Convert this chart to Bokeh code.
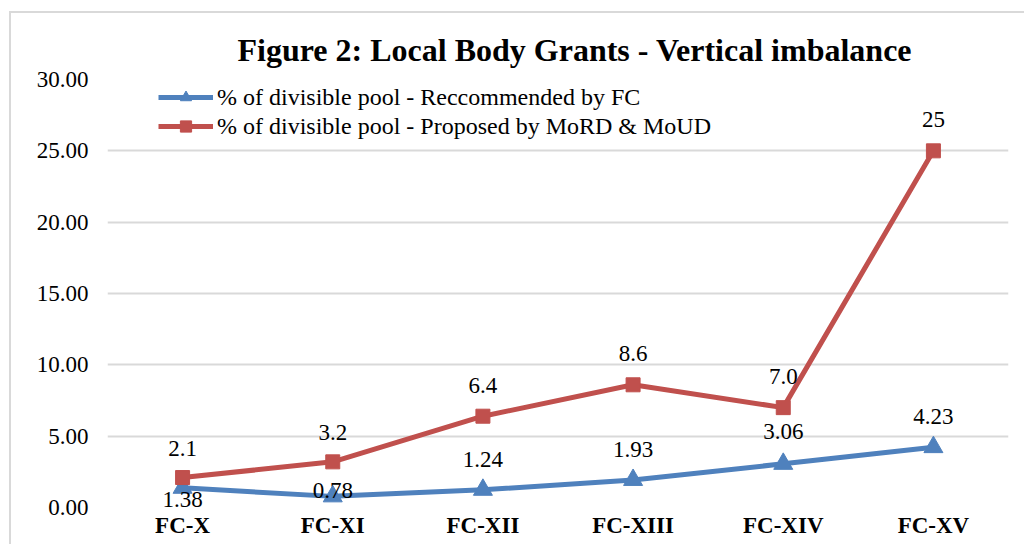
from bokeh.plotting import figure
from bokeh.models import ColumnDataSource, Range1d, FixedTicker, NumeralTickFormatter, Legend, LegendItem
from bokeh.core.properties import value
from bokeh.embed import file_html
from bokeh.resources import INLINE

categories = ["FC-X", "FC-XI", "FC-XII", "FC-XIII", "FC-XIV", "FC-XV"]
recommended = [1.38, 0.78, 1.24, 1.93, 3.06, 4.23]
proposed = [2.1, 3.2, 6.4, 8.6, 7.0, 25]
recommended_labels = ["1.38", "0.78", "1.24", "1.93", "3.06", "4.23"]
proposed_labels = ["2.1", "3.2", "6.4", "8.6", "7.0", "25"]
series_names = ["% of divisible pool - Reccommended by FC",
                "% of divisible pool - Proposed by MoRD & MoUD"]
y_ticks = [0, 5, 10, 15, 20, 25, 30]

# label vertical offsets in pixels (style)
rec_label_dy = [12, -6, -30, -30, -32, -31]
prop_label_dy = [-29, -29, -31, -31, -31, -31]

BLUE = "#4F81BD"
RED = "#C0504D"
FONT = "Liberation Serif"

src_rec = ColumnDataSource(dict(x=categories, y=recommended, t=recommended_labels, dy=rec_label_dy))
src_prop = ColumnDataSource(dict(x=categories, y=proposed, t=proposed_labels, dy=prop_label_dy))

p = figure(width=1015, height=533, x_range=categories, y_range=Range1d(0, 30),
           output_backend="svg", toolbar_location=None,
           min_border_left=96, min_border_right=18, min_border_top=66, min_border_bottom=39)
p.styles = {"border-left": "2px solid #d9d9d9", "border-top": "2px solid #d9d9d9",
            "margin-left": "9px", "margin-top": "11px"}

p.title.text = "Figure 2: Local Body Grants - Vertical imbalance"
p.title.text_font = FONT
p.title.text_font_size = "32px"
p.title.text_font_style = "bold"
p.title.text_color = "black"
p.title.align = "left"
p.title.offset = 130
p.title.standoff = 24

p.outline_line_color = None
p.xgrid.grid_line_color = None
p.ygrid.grid_line_color = "#d9d9d9"
p.ygrid.grid_line_width = 2

p.yaxis.ticker = FixedTicker(ticks=y_ticks)
p.yaxis.formatter = NumeralTickFormatter(format="0.00")
p.yaxis.axis_line_color = None
p.yaxis.major_tick_line_color = None
p.yaxis.minor_tick_line_color = None
p.yaxis.major_tick_out = 0
p.yaxis.major_tick_in = 0
p.yaxis.major_label_standoff = 19
p.yaxis.major_label_text_font = FONT
p.yaxis.major_label_text_font_size = "23px"
p.yaxis.major_label_text_color = "black"

p.xaxis.axis_line_color = None
p.xaxis.major_tick_line_color = None
p.xaxis.major_tick_out = 0
p.xaxis.major_tick_in = 0
p.xaxis.major_label_standoff = 5
p.xaxis.major_label_text_font = FONT
p.xaxis.major_label_text_font_size = "23px"
p.xaxis.major_label_text_font_style = "bold"
p.xaxis.major_label_text_color = "black"

l1 = p.line("x", "y", source=src_rec, line_color=BLUE, line_width=5)
m1 = p.scatter("x", "y", source=src_rec, marker="triangle", size=19, fill_color=BLUE, line_color=BLUE)
l2 = p.line("x", "y", source=src_prop, line_color=RED, line_width=5)
m2 = p.scatter("x", "y", source=src_prop, marker="square", size=14, fill_color=RED, line_color=RED)

p.text("x", "y", text="t", source=src_rec, y_offset="dy", text_align="center", text_baseline="middle",
       text_font=value(FONT), text_font_size="23px", text_color="black", level="overlay")
p.text("x", "y", text="t", source=src_prop, y_offset="dy", text_align="center", text_baseline="middle",
       text_font=value(FONT), text_font_size="23px", text_color="black", level="overlay")

legend = Legend(items=[LegendItem(label=series_names[0], renderers=[l1, m1]),
                       LegendItem(label=series_names[1], renderers=[l2, m2])],
                location=(51, 367))
legend.background_fill_alpha = 0
legend.border_line_color = None
legend.margin = 0
legend.padding = 0
legend.spacing = 1
legend.glyph_width = 55
legend.glyph_height = 28
legend.label_height = 28
legend.label_standoff = 4
legend.label_text_font = FONT
legend.label_text_font_size = "24px"
legend.label_text_color = "black"
p.add_layout(legend)

open("out.html", "w").write(file_html(p, INLINE))
